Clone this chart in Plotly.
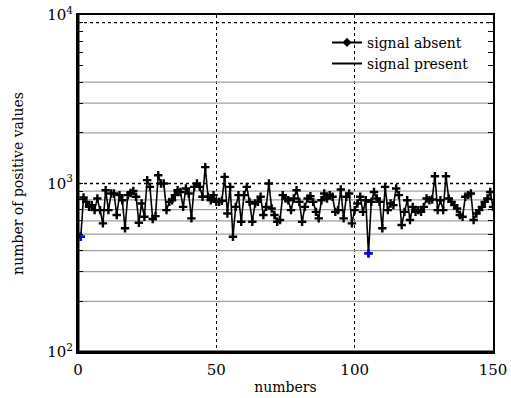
import plotly.graph_objects as go

# data
x_vals = list(range(1, 151))
signal_absent = [
    483, 826, 778, 727, 744, 695, 815, 695, 580, 912,
    695, 872, 872, 650, 853, 796, 542, 853, 879, 904,
    834, 585, 761, 635, 1047, 955, 615, 640, 1120, 1000,
    1000, 695, 778, 796, 853, 912, 891, 727, 934, 872,
    621, 955, 1000, 955, 834, 1250, 834, 796, 853, 778,
    778, 790, 1095, 664, 955, 483, 727, 853, 593, 853,
    955, 778, 593, 761, 778, 834, 650, 727, 1000, 711,
    650, 593, 607, 853, 815, 796, 695, 815, 912, 778,
    593, 727, 815, 841, 778, 679, 621, 796, 872, 815,
    853, 834, 679, 695, 921, 621, 834, 872, 580, 695,
    761, 834, 679, 796, 385, 778, 891, 815, 778, 542,
    955, 695, 761, 744, 934, 853, 567, 679, 796, 607,
    727, 679, 695, 679, 727, 815, 796, 804, 1105, 695,
    796, 695, 1105, 815, 778, 744, 711, 650, 635, 834,
    853, 872, 607, 664, 695, 727, 778, 815, 891, 727,
]
present_x = [1, 105]
present_y = [483, 385]

minor_grid = [200, 300, 400, 500, 600, 700, 800, 900, 2000, 3000, 4000]
major_grid = [1000, 9000]
y_tickvals = [100, 200, 300, 400, 500, 600, 700, 800, 900, 1000,
              2000, 3000, 4000, 5000, 6000, 7000, 8000, 9000, 10000]
y_ticktext = ["10<sup>2</sup>"] + [""] * 8 + ["10<sup>3</sup>"] + [""] * 8 + ["10<sup>4</sup>"]
x_tickvals = [0, 50, 100, 150]

FONT = "DejaVu Serif"
fig = go.Figure()

for v in minor_grid:
    fig.add_trace(go.Scatter(x=[0, 150], y=[v, v], mode="lines",
                             line=dict(color="#a0a0a0", width=1.3),
                             showlegend=False, hoverinfo="skip"))
for v in major_grid:
    fig.add_trace(go.Scatter(x=[0, 150], y=[v, v], mode="lines",
                             line=dict(color="black", width=1.3, dash="dot"),
                             showlegend=False, hoverinfo="skip"))

fig.add_trace(go.Scatter(x=x_vals, y=signal_absent, mode="lines+markers",
                         line=dict(color="black", width=1.6),
                         marker=dict(symbol="cross-thin", size=6,
                                     line=dict(color="black", width=2.4)),
                         showlegend=False))
fig.add_trace(go.Scatter(x=present_x, y=present_y, mode="markers",
                         marker=dict(symbol="cross-thin", size=6,
                                     line=dict(color="blue", width=2.2)),
                         showlegend=False))

# legend entries
fig.add_trace(go.Scatter(x=[None], y=[None], mode="lines+markers", name="signal absent",
                         line=dict(color="black", width=2),
                         marker=dict(symbol="diamond", size=7, color="black")))
fig.add_trace(go.Scatter(x=[None], y=[None], mode="lines", name="signal present",
                         line=dict(color="black", width=2)))

fig.update_layout(
    width=511, height=398,
    margin=dict(l=77.5, r=17.5, t=14.7, b=46),
    paper_bgcolor="white", plot_bgcolor="white",
    font=dict(family=FONT, size=14, color="black"),
    legend=dict(x=0.60, y=0.965, xanchor="left", yanchor="top",
                bgcolor="rgba(0,0,0,0)", font=dict(family=FONT, size=14),
                tracegroupgap=0),
    xaxis=dict(range=[0, 150], tickvals=x_tickvals, ticks="", showgrid=True,
               gridcolor="black", griddash="dot", gridwidth=1.3, zeroline=False,
               showline=True, linecolor="black", linewidth=2, mirror=True,
               automargin=False,
               title=dict(text="numbers", font=dict(family=FONT, size=14), standoff=4),
               ticklabelstandoff=3,
               tickfont=dict(family=FONT, size=15)),
    yaxis=dict(type="log", range=[2, 4], tickvals=y_tickvals, ticktext=y_ticktext,
               ticks="inside", ticklen=5, tickcolor="black", tickwidth=1,
               showgrid=False, zeroline=False, automargin=False,
               showline=True, linecolor="black", linewidth=2, mirror="ticks",
               title=dict(text="number of positive values", font=dict(family=FONT, size=14), standoff=20),
               tickfont=dict(family=FONT, size=15)),
)

# thicker left and bottom frame
fig.add_shape(type="line", xref="paper", yref="paper", x0=0, x1=0, y0=0, y1=1,
              line=dict(color="black", width=3))
fig.add_shape(type="line", xref="paper", yref="paper", x0=0, x1=1, y0=0, y1=0,
              line=dict(color="black", width=3))

fig.write_html("out.html")
